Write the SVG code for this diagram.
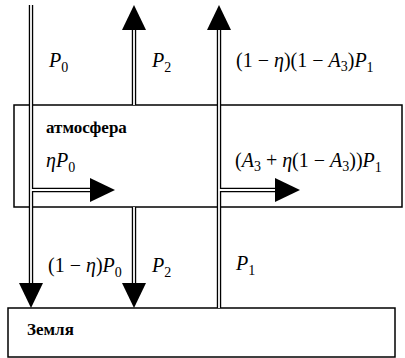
<svg xmlns="http://www.w3.org/2000/svg" width="405" height="358" viewBox="0 0 405 358">
<style>
.box{fill:none;stroke:#000;stroke-width:1.5}
.outer{fill:none;stroke:#000;stroke-width:4.4}
.inner{fill:none;stroke:#fff;stroke-width:1.8}
.head{fill:#000}
.m{font-size:20px;font-style:italic;fill:#000}
.r{font-style:normal}
.s{font-size:14px}
.b{font-size:17px;font-weight:bold;fill:#000}
</style>
<rect width="405" height="358" fill="#fff"/>
<g id="atmosphere">
<rect class="box" x="14" y="105" width="388" height="102"/>
<text class="b" font-family="Liberation Serif, serif" x="46" y="133">атмосфера</text>
</g>
<g id="earth">
<rect class="box" x="8" y="308" width="387" height="49"/>
<text class="b" font-family="Liberation Serif, serif" x="27" y="335">Земля</text>
</g>
<g id="connectors">
<g class="outer">
<path d="M31 5V284M31 190H91"/>
<path d="M134 30V105M134 207V284"/>
<path d="M219 30V308M219 190H276"/>
</g>
<g class="inner">
<path d="M31 5V284M31 190H91"/>
<path d="M134 30V105M134 207V284"/>
<path d="M219 30V308M219 190H276"/>
</g>
<polygon class="head" points="19,283 43,283 31,308"/>
<polygon class="head" points="122,283 146,283 134,308"/>
<polygon class="head" points="122,30 146,30 134,5"/>
<polygon class="head" points="207,30 231,30 219,5"/>
<polygon class="head" points="90,178 90,202 115,190"/>
<polygon class="head" points="275,178 275,202 300,190"/>
</g>
<g id="labels" font-family="Liberation Serif, serif">
<text class="m" x="49" y="67">P<tspan class="s r" dy="5">0</tspan></text>
<text class="m" x="152" y="67">P<tspan class="s r" dy="5">2</tspan></text>
<text class="m" x="236" y="67"><tspan class="r">(1 − </tspan>η<tspan class="r">)(1 − </tspan>A<tspan class="s r" dy="4">3</tspan><tspan class="r" dy="-4">)</tspan>P<tspan class="s r" dy="5">1</tspan></text>
<text class="m" x="46" y="167">ηP<tspan class="s r" dy="5">0</tspan></text>
<text class="m" x="235" y="167"><tspan class="r">(</tspan>A<tspan class="s r" dy="4">3</tspan><tspan class="r" dy="-4"> + </tspan>η<tspan class="r">(1 − </tspan>A<tspan class="s r" dy="4">3</tspan><tspan class="r" dy="-4">))</tspan>P<tspan class="s r" dy="5">1</tspan></text>
<text class="m" x="48" y="272"><tspan class="r">(1 − </tspan>η<tspan class="r">)</tspan>P<tspan class="s r" dy="5">0</tspan></text>
<text class="m" x="152" y="272">P<tspan class="s r" dy="5">2</tspan></text>
<text class="m" x="236" y="270">P<tspan class="s r" dy="5">1</tspan></text>
</g>
</svg>
